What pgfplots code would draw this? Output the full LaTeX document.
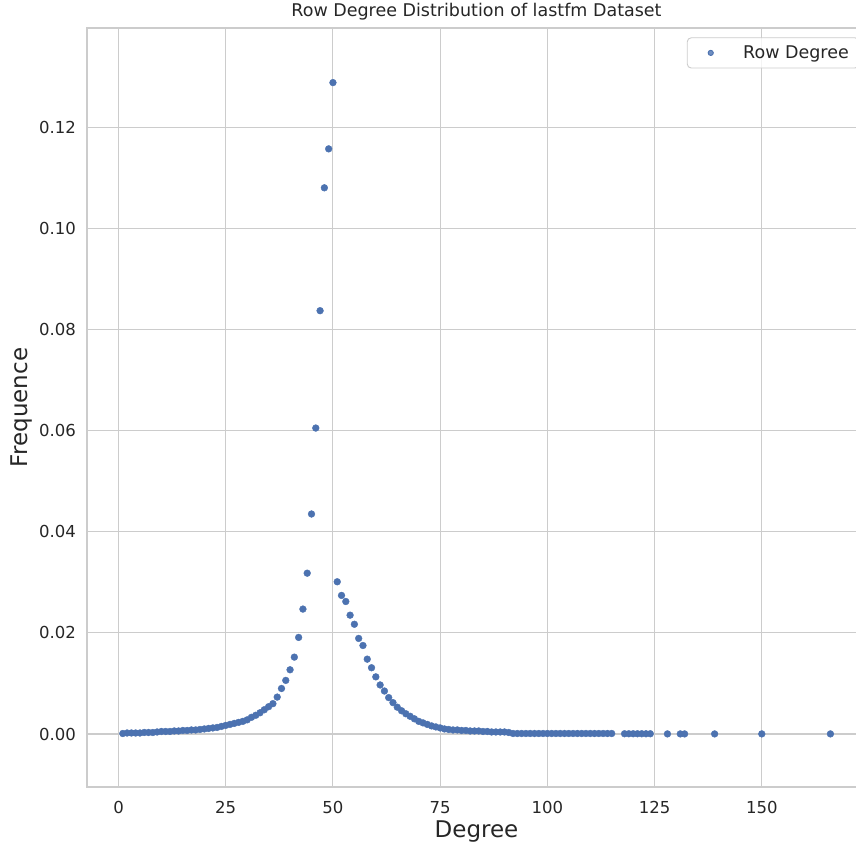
\documentclass[border=0pt]{standalone}
\usepackage{fontspec}
\setmainfont{DejaVu Sans}
\usepackage{pgfplots}
\usepackage{pgfplotstable}
\pgfplotsset{compat=1.18}
\definecolor{deepblue}{HTML}{4C72B0}
\definecolor{gridgray}{HTML}{CCCCCC}
\definecolor{txt}{HTML}{262626}

% degree, relative frequency of rows with that degree
\pgfplotstableread{
deg freq
1 0.0001
2 0.0002
3 0.0002
4 0.0002
5 0.0002
6 0.0003
7 0.0003
8 0.0003
9 0.0004
10 0.0005
11 0.0005
12 0.0005
13 0.0006
14 0.0006
15 0.0007
16 0.0007
17 0.0008
18 0.0008
19 0.0009
20 0.0010
21 0.0011
22 0.0012
23 0.0013
24 0.0015
25 0.0017
26 0.0019
27 0.0021
28 0.0023
29 0.0025
30 0.0028
31 0.0033
32 0.0037
33 0.0042
34 0.0048
35 0.0054
36 0.0060
37 0.0073
38 0.0090
39 0.0106
40 0.0127
41 0.0152
42 0.0191
43 0.0247
44 0.0318
45 0.0435
46 0.0605
47 0.0837
48 0.1080
49 0.1157
50 0.1288
51 0.0301
52 0.0274
53 0.0262
54 0.0235
55 0.0217
56 0.0189
57 0.0175
58 0.0148
59 0.0131
60 0.0113
61 0.0097
62 0.0085
63 0.0072
64 0.0062
65 0.0053
66 0.0046
67 0.0040
68 0.0035
69 0.0030
70 0.0025
71 0.0022
72 0.0019
73 0.0016
74 0.0014
75 0.0012
76 0.0010
77 0.0009
78 0.0008
79 0.0008
80 0.0007
81 0.0007
82 0.0006
83 0.0006
84 0.0006
85 0.0005
86 0.0005
87 0.0004
88 0.0004
89 0.0004
90 0.0004
91 0.0003
92 0.0001
93 0.0001
94 0.0001
95 0.0001
96 0.0001
97 0.0001
98 0.0001
99 0.0001
100 0.0001
101 0.0001
102 0.0001
103 0.0001
104 0.0001
105 0.0001
106 0.0001
107 0.0001
108 0.0001
109 0.0001
110 0.0001
111 0.0001
112 0.0001
113 0.0001
114 0.0001
115 0.0001
118 0.00005
119 0.00005
120 0.00005
121 0.00005
122 0.00005
123 0.00005
124 0.00005
128 0.00002
131 0.00002
132 0.00002
139 0.00002
150 0.00002
166 0.00002
}\rowdegree

\begin{document}
\begin{tikzpicture}
\begin{axis}[
  scale only axis,
  width=779pt, height=759pt,
  at={(0pt,0pt)}, anchor=south west,
  xmin=-7.35, xmax=174.3,
  ymin=-0.01048, ymax=0.1396,
  xtick={0,25,50,75,100,125,150},
  ytick={0,0.02,0.04,0.06,0.08,0.10,0.12},
  scaled y ticks=false,
  /pgf/number format/assume math mode=true,
  yticklabel style={/pgf/number format/fixed,
    /pgf/number format/fixed zerofill,
    /pgf/number format/precision=2},
  major tick length=0pt,
  tick label style={font=\fontsize{16.5}{19}\selectfont, text=txt},
  xticklabel style={anchor=base, yshift=-26pt},
  yticklabel style={anchor=east, xshift=-7.5pt},
  grid=major,
  major grid style={gridgray, line width=1.1pt},
  axis line style={gridgray, line width=1.3pt},
  title={Row Degree Distribution of lastfm Dataset},
  title style={at={(axis description cs:0.5,1.0066)}, anchor=base,
    font=\fontsize{17.5}{20}\selectfont, text=txt},
  xlabel={Degree},
  ylabel={Frequence},
  label style={font=\fontsize{23}{26}\selectfont, text=txt},
  xlabel style={at={(axis description cs:0.5,-0.0663)}, anchor=base},
  ylabel style={at={(axis description cs:-0.0847,0.5)}, anchor=center},
  legend style={at={(0.770,0.9877)}, anchor=north west,
    draw=gridgray, line width=0.9pt, rounded corners=4pt,
    fill=white, fill opacity=0.8, text opacity=1,
    font=\fontsize{17.5}{20}\selectfont, text=txt,
    inner xsep=8pt, inner ysep=6pt, nodes={inner sep=2pt}},
  legend image code/.code={
    \path (0pt,0pt) (45pt,0pt);
    \draw[#1, mark size=2.6pt] plot coordinates {(15pt,0pt)};
  },
]
\addplot[only marks, mark=*, mark size=3.4pt, color=deepblue,
  mark options={fill=deepblue, draw=none}]
  table[x=deg, y=freq] {\rowdegree};
\addlegendentry{Row Degree}
\end{axis}
\pgfresetboundingbox
\path[use as bounding box] (-87pt,-59pt) rectangle (769pt,787pt);
\end{tikzpicture}
\end{document}
